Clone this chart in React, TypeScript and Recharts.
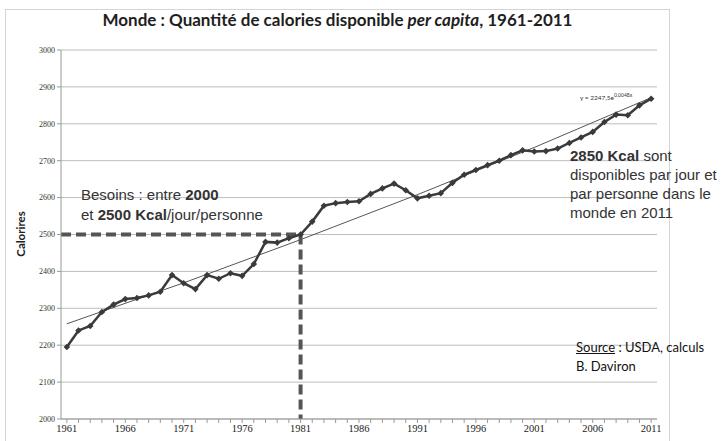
import { CartesianGrid, Line, LineChart, ReferenceLine, XAxis, YAxis } from 'recharts';

const years = [
  1961, 1962, 1963, 1964, 1965, 1966, 1967, 1968, 1969, 1970,
  1971, 1972, 1973, 1974, 1975, 1976, 1977, 1978, 1979, 1980,
  1981, 1982, 1983, 1984, 1985, 1986, 1987, 1988, 1989, 1990,
  1991, 1992, 1993, 1994, 1995, 1996, 1997, 1998, 1999, 2000,
  2001, 2002, 2003, 2004, 2005, 2006, 2007, 2008, 2009, 2010, 2011,
];

const calories = [
  2195, 2240, 2252, 2290, 2310, 2325, 2328, 2335, 2345, 2390,
  2368, 2352, 2390, 2380, 2395, 2388, 2420, 2480, 2478, 2490,
  2500, 2535, 2578, 2585, 2588, 2590, 2610, 2625, 2638, 2620,
  2598, 2605, 2612, 2640, 2662, 2675, 2688, 2700, 2715, 2728,
  2725, 2726, 2733, 2748, 2763, 2778, 2805, 2825, 2823, 2850, 2868,
];

// exponential trend (y = 2247,5e^0,0048x) every 10 years
const trendYears = [1961, 1971, 1981, 1991, 2001, 2011];
const trendValues = [2258, 2369, 2486, 2608, 2736, 2871];

const labelYears = [1961, 1966, 1971, 1976, 1981, 1986, 1991, 1996, 2001, 2006, 2011];
const yTicks = [2000, 2100, 2200, 2300, 2400, 2500, 2600, 2700, 2800, 2900, 3000];

const needYear = 1981;
const needValue = 2500;

const rows = years.map((year, i) => {
  const t = trendYears.indexOf(year);
  return { year, calories: calories[i], trend: t >= 0 ? trendValues[t] : null };
});

const sans = 'Lato, "Open Sans", sans-serif';
const arial = '"Liberation Sans", Arial, sans-serif';

function Diamond(props: any) {
  const { cx, cy, index } = props;
  if (cx == null || cy == null) return null;
  const r = 3.3;
  return (
    <path
      key={index}
      d={`M${cx},${cy - r}L${cx + r},${cy}L${cx},${cy + r}L${cx - r},${cy}Z`}
      fill="#3a3a3a"
    />
  );
}

export default function App() {
  return (
    <div style={{ position: 'absolute', left: 0, top: 0, width: 723, height: 441, background: '#fff', overflow: 'hidden' }}>
      <div
        style={{
          position: 'absolute', left: 5, top: 9, width: 665, height: 450,
          border: '1px solid #d4d4d4', boxSizing: 'border-box',
        }}
      />
      <div
        style={{
          position: 'absolute', left: 5, top: 9, width: 665, textAlign: 'center',
          fontFamily: sans, fontWeight: 700, fontSize: 17, color: '#1e1e1e',
        }}
      >
        Monde : Quantité de calories disponible <i>per capita</i>, 1961-2011
      </div>
      <LineChart
        width={723}
        height={441}
        data={rows}
        margin={{ top: 50, right: 66, bottom: 2, left: 21 }}
        style={{ position: 'absolute', left: 0, top: 0 }}
      >
        <CartesianGrid vertical={false} stroke="#bdbdbd" strokeWidth={1} />
        <XAxis
          dataKey="year"
          type="number"
          domain={[1960.5, 2011.5]}
          ticks={years}
          interval={0}
          height={20}
          tickSize={4}
          stroke="#999"
          tickLine={{ stroke: '#999' }}
          tickFormatter={(v: number) => (labelYears.includes(v) ? String(v) : '')}
          tick={{ fontFamily: '"Liberation Serif", serif', fontSize: 10.5, fill: '#222' }}
        />
        <YAxis
          type="number"
          domain={[2000, 3000]}
          ticks={yTicks}
          interval={0}
          width={40}
          tickSize={4}
          stroke="#999"
          tick={{ fontFamily: '"Liberation Serif", serif', fontSize: 8, fill: '#333' }}
        />
        <ReferenceLine
          segment={[{ x: 1960.5, y: needValue }, { x: needYear, y: needValue }]}
          stroke="#555"
          strokeWidth={4}
          strokeDasharray="10 5"
        />
        <ReferenceLine
          segment={[{ x: needYear, y: needValue }, { x: needYear, y: 2000 }]}
          stroke="#555"
          strokeWidth={4}
          strokeDasharray="10 5"
        />
        <Line
          dataKey="trend"
          connectNulls
          stroke="#555"
          strokeWidth={1}
          dot={false}
          activeDot={false}
          isAnimationActive={false}
        />
        <Line
          dataKey="calories"
          stroke="#3a3a3a"
          strokeWidth={2.5}
          dot={Diamond}
          activeDot={false}
          isAnimationActive={false}
        />
      </LineChart>
      <div
        style={{
          position: 'absolute', left: 20, top: 234, transform: 'translate(-50%, -50%) rotate(-90deg)',
          fontFamily: sans, fontWeight: 700, fontSize: 11.5, color: '#222', whiteSpace: 'nowrap',
        }}
      >
        Calorires
      </div>
      <div
        style={{
          position: 'absolute', left: 81, top: 185, fontFamily: arial, fontSize: 15,
          lineHeight: '20px', color: '#333', whiteSpace: 'nowrap',
        }}
      >
        Besoins : entre <b>2000</b>
        <br />
        et <b>2500 Kcal</b>/jour/personne
      </div>
      <div
        style={{
          position: 'absolute', left: 570, top: 146, fontFamily: arial, fontSize: 15,
          lineHeight: '19px', color: '#333', whiteSpace: 'nowrap',
        }}
      >
        <b>2850 Kcal</b> sont
        <br />
        disponibles par jour et
        <br />
        par personne dans le
        <br />
        monde en 2011
      </div>
      <div
        style={{
          position: 'absolute', left: 580, top: 92, fontFamily: sans, fontSize: 6.5,
          color: '#333', whiteSpace: 'nowrap',
        }}
      >
        y = 2247,5e<sup style={{ fontSize: 5 }}>0,0048x</sup>
      </div>
      <div
        style={{
          position: 'absolute', left: 576, top: 338, fontFamily: sans, fontSize: 13,
          lineHeight: '19px', color: '#111', whiteSpace: 'nowrap',
        }}
      >
        <u>Source</u> : USDA, calculs
        <br />
        B. Daviron
      </div>
    </div>
  );
}
